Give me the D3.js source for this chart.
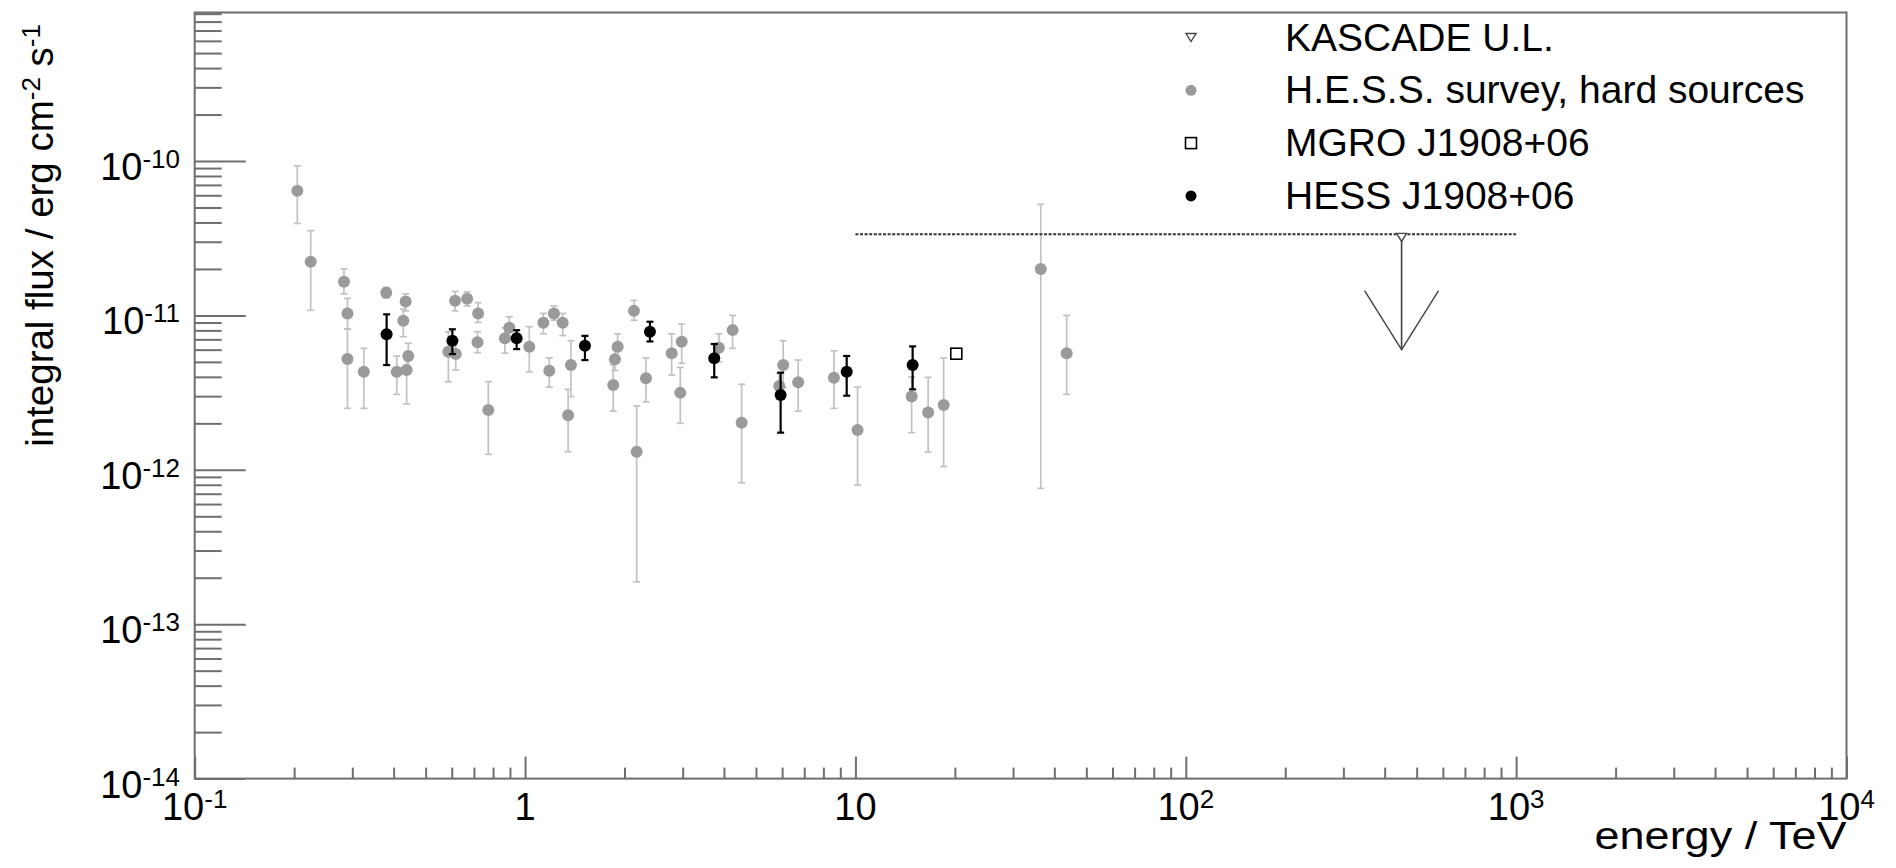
<!DOCTYPE html>
<html>
<head>
<meta charset="utf-8">
<script src="https://cdn.jsdelivr.net/npm/d3@7/dist/d3.min.js"></script>
<style>
  html, body { margin: 0; padding: 0; background: #fff; }
  svg { display: block; font-family: "Liberation Sans", Arial, Helvetica, sans-serif; }
</style>
</head>
<body>
<svg id="chart" width="1896" height="868"></svg>
<script>
// H.E.S.S. survey, hard sources (grey): energy / TeV, flux, upper and lower error ends
var surveyE  = [0.2045, 0.2244, 0.283, 0.290, 0.290, 0.325, 0.380, 0.435, 0.428, 0.443, 0.438, 0.409,
                0.586, 0.617, 0.614, 0.668, 0.721, 0.718, 0.774, 0.869, 0.896, 1.03, 1.136, 1.223,
                1.30, 1.184, 1.377, 1.35, 1.849, 1.871, 1.907, 2.177, 2.136, 2.323, 2.778, 2.979,
                2.95, 3.86, 4.25, 4.524, 6.045, 5.88, 6.71, 8.61, 10.15, 14.8, 16.6, 18.5, 36.4, 43.6];
var surveyF  = [6.42e-11, 2.23e-11, 1.65e-11, 1.03e-11, 5.22e-12, 4.31e-12, 1.40e-11, 1.23e-11, 9.25e-12, 5.46e-12, 4.43e-12, 4.31e-12,
                5.82e-12, 5.62e-12, 1.245e-11, 1.28e-11, 1.03e-11, 6.7e-12, 2.44e-12, 7.11e-12, 8.31e-12, 6.27e-12, 8.97e-12, 1.03e-11,
                8.97e-12, 4.38e-12, 4.77e-12, 2.26e-12, 3.54e-12, 5.2e-12, 6.27e-12, 1.31e-12, 1.07e-11, 3.92e-12, 5.69e-12, 6.76e-12,
                3.15e-12, 6.18e-12, 8.03e-12, 2.02e-12, 4.77e-12, 3.49e-12, 3.69e-12, 3.95e-12, 1.81e-12, 2.98e-12, 2.35e-12, 2.63e-12, 2.0e-11, 5.69e-12];
var surveyUp = [9.3e-11, 3.54e-11, 2.0e-11, 1.29e-11, 8.2e-12, 6.12e-12, 1.52e-11, 1.38e-11, 1.1e-11, 6.6e-12, 5.5e-12, 5.46e-12,
                7.84e-12, 6.9e-12, 1.43e-11, 1.42e-11, 1.21e-11, 7.84e-12, 3.72e-12, 8.3e-12, 9.8e-12, 8.45e-12, 1.03e-11, 1.15e-11,
                1.03e-11, 5.3e-12, 6.86e-12, 3.32e-12, 4.8e-12, 6.0e-12, 7.6e-12, 2.59e-12, 1.25e-11, 5.3e-12, 7.6e-12, 8.79e-12,
                4.6e-12, 7.6e-12, 1.0e-11, 3.58e-12, 6.86e-12, 4.2e-12, 5.14e-12, 5.9e-12, 3.43e-12, 4.0e-12, 3.97e-12, 5.3e-12, 5.24e-11, 1.0e-11];
var surveyLo = [3.94e-11, 1.08e-11, 1.38e-11, 8.17e-12, 2.5e-12, 2.5e-12, 1.30e-11, 1.07e-11, 7.28e-12, 4.3e-12, 2.67e-12, 3.08e-12,
                3.72e-12, 4.43e-12, 1.07e-11, 1.15e-11, 9.0e-12, 5.74e-12, 1.26e-12, 5.69e-12, 7.11e-12, 4.31e-12, 7.6e-12, 9.3e-12,
                7.4e-12, 3.43e-12, 2.98e-12, 1.31e-12, 2.4e-12, 4.4e-12, 5.2e-12, 1.88e-13, 9.3e-12, 2.76e-12, 4.11e-12, 4.9e-12,
                2.0e-12, 5.0e-12, 6.12e-12, 8.24e-13, 3.43e-12, 2.9e-12, 2.4e-12, 2.5e-12, 7.98e-13, 1.74e-12, 1.30e-12, 1.05e-12, 7.58e-13, 3.08e-12];

// HESS J1908+06 (black)
var hessE  = [0.381, 0.6025, 0.943, 1.518, 2.388, 3.738, 5.937, 9.41, 14.9];
var hessF  = [7.55e-12, 6.86e-12, 7.11e-12, 6.37e-12, 7.84e-12, 5.27e-12, 3.05e-12, 4.31e-12, 4.77e-12];
var hessUp = [1.016e-11, 8.13e-12, 8.02e-12, 7.37e-12, 9.1e-12, 6.53e-12, 4.26e-12, 5.46e-12, 6.3e-12];
var hessLo = [4.77e-12, 5.62e-12, 6.05e-12, 5.14e-12, 6.78e-12, 3.97e-12, 1.74e-12, 3.02e-12, 3.32e-12];

// MGRO J1908+06 (open square)
var mgroE = [20.2];
var mgroF = [5.65e-12];

// KASCADE upper limit
var kascadeE = [450];
var kascadeF = [3.35e-11];
var kascadeElo = [10];
var kascadeEhi = [1000];
var kascadeArrowTo = [6e-12];

// axis ticks and labels
var xMajor = [0.1, 1, 10, 100, 1000, 10000];
var xLabels = [["10", "-1"], ["1", ""], ["10", ""], ["10", "2"], ["10", "3"], ["10", "4"]];
var yMajor = [1e-14, 1e-13, 1e-12, 1e-11, 1e-10];
var yLabels = [["10", "-14"], ["10", "-13"], ["10", "-12"], ["10", "-11"], ["10", "-10"]];

var legendLabels = ["KASCADE U.L.", "H.E.S.S. survey, hard sources", "MGRO J1908+06", "HESS J1908+06"];

var L = 194.7, R = 1846.5, T = 12.5, B = 778.6;
var axisColor = '#6e6e6e';
var greyMarker = '#9a9a9a', greyBar = '#c2c2c2';

var svg = d3.select('#chart');

var x = d3.scaleLog().domain([0.1, 1e4]).range([L, R]);
var y = d3.scaleLog().domain([1e-14, 9.16e-10]).range([B, T]);

function minorsOf(majors, top) {
    var out = [];
    majors.forEach(function(m) {
        for (var k = 2; k <= 9; k++) {
            var v = m * k;
            if (v < top) out.push(v);
        }
    });
    return out;
}
var xMinor = minorsOf(xMajor, 1e4 * 0.999);
var yMinor = minorsOf(yMajor, 9.16e-10);

// frame
svg.append('rect')
    .attr('x', L).attr('y', T)
    .attr('width', R - L).attr('height', B - T)
    .attr('fill', 'none')
    .attr('stroke', axisColor)
    .attr('stroke-width', 2);

function styleAxis(g) {
    g.select('.domain').remove();
    g.selectAll('.tick line').attr('stroke', axisColor).attr('stroke-width', 2);
    g.selectAll('.tick text').remove();
}

// x ticks (inside the frame)
svg.append('g').attr('transform', 'translate(0,' + B + ')')
    .call(d3.axisBottom(x).tickValues(xMinor).tickSize(-11).tickFormat(''))
    .call(styleAxis);
svg.append('g').attr('transform', 'translate(0,' + B + ')')
    .call(d3.axisBottom(x).tickValues(xMajor).tickSize(-22).tickFormat(''))
    .call(styleAxis);

// y ticks
svg.append('g').attr('transform', 'translate(' + L + ',0)')
    .call(d3.axisLeft(y).tickValues(yMinor).tickSize(-27).tickFormat(''))
    .call(styleAxis);
svg.append('g').attr('transform', 'translate(' + L + ',0)')
    .call(d3.axisLeft(y).tickValues(yMajor).tickSize(-51).tickFormat(''))
    .call(styleAxis);

// tick labels with superscripts
function powerLabel(sel, parts, baseSize, supSize, supRaise) {
    sel.append('tspan').attr('font-size', baseSize).text(parts[0]);
    if (parts[1]) {
        sel.append('tspan').attr('font-size', supSize).attr('dy', -supRaise).text(parts[1]);
    }
}

xMajor.forEach(function(v, i) {
    var t = svg.append('text')
        .attr('x', x(v))
        .attr('y', B + 41)
        .attr('text-anchor', 'middle')
        .attr('fill', '#000');
    powerLabel(t, xLabels[i], 38, 26, 12);
});

yMajor.forEach(function(v, i) {
    var t = svg.append('text')
        .attr('x', 180)
        .attr('y', y(v) + 19)
        .attr('text-anchor', 'end')
        .attr('fill', '#000');
    powerLabel(t, yLabels[i], 38, 26, 12);
});

// axis titles
svg.append('text')
    .attr('x', R)
    .attr('y', 849)
    .attr('text-anchor', 'end')
    .attr('font-size', 39)
    .attr('textLength', 252)
    .attr('lengthAdjust', 'spacingAndGlyphs')
    .attr('fill', '#000')
    .text('energy / TeV');

var yt = svg.append('text')
    .attr('transform', 'translate(53,24) rotate(-90)')
    .attr('text-anchor', 'end')
    .attr('font-size', 38.5)
    .attr('fill', '#000');
yt.append('tspan').text('integral flux / erg cm');
yt.append('tspan').attr('font-size', 26).attr('dy', -13).text('-2');
yt.append('tspan').attr('dy', 13).text(' s');
yt.append('tspan').attr('font-size', 26).attr('dy', -13).text('-1');

// error bar helper
function errorBars(E, lo, up, color, width, cap) {
    var g = svg.append('g');
    g.selectAll('line.bar').data(E).enter().append('line')
        .attr('x1', function(d) { return x(d); })
        .attr('x2', function(d) { return x(d); })
        .attr('y1', function(d, i) { return y(up[i]); })
        .attr('y2', function(d, i) { return y(lo[i]); })
        .attr('stroke', color).attr('stroke-width', width);
    [up, lo].forEach(function(arr) {
        g.selectAll(null).data(E).enter().append('line')
            .attr('x1', function(d) { return x(d) - cap / 2; })
            .attr('x2', function(d) { return x(d) + cap / 2; })
            .attr('y1', function(d, i) { return y(arr[i]); })
            .attr('y2', function(d, i) { return y(arr[i]); })
            .attr('stroke', color).attr('stroke-width', width);
    });
}

// survey points
errorBars(surveyE, surveyLo, surveyUp, greyBar, 1.7, 7);
svg.append('g').selectAll('circle').data(surveyE).enter().append('circle')
    .attr('cx', function(d) { return x(d); })
    .attr('cy', function(d, i) { return y(surveyF[i]); })
    .attr('r', 6)
    .attr('fill', greyMarker);

// KASCADE upper limit: dotted energy range, marker and arrow
svg.append('line')
    .attr('x1', x(kascadeElo[0])).attr('x2', x(kascadeEhi[0]))
    .attr('y1', y(kascadeF[0])).attr('y2', y(kascadeF[0]))
    .attr('stroke', '#333')
    .attr('stroke-width', 2)
    .attr('stroke-dasharray', '3,1.6');

var kx = x(kascadeE[0]), ky = y(kascadeF[0]), ky2 = y(kascadeArrowTo[0]);
svg.append('line')
    .attr('x1', kx).attr('x2', kx).attr('y1', ky).attr('y2', ky2)
    .attr('stroke', '#444').attr('stroke-width', 1.6);
svg.append('path')
    .attr('d', 'M' + (kx - 37) + ',' + (ky2 - 59) + 'L' + kx + ',' + ky2 + 'L' + (kx + 37) + ',' + (ky2 - 59))
    .attr('fill', 'none').attr('stroke', '#444').attr('stroke-width', 1.4);

function triDown(cx, cy, s) {
    var h = s * 0.8;
    return 'M' + (cx - s / 2) + ',' + (cy - h / 2) + 'L' + (cx + s / 2) + ',' + (cy - h / 2) + 'L' + cx + ',' + (cy + h / 2) + 'Z';
}
svg.append('path')
    .attr('d', triDown(kx, ky + 3, 10))
    .attr('fill', '#fff').attr('stroke', '#444').attr('stroke-width', 1.4);

// HESS J1908+06
errorBars(hessE, hessLo, hessUp, '#000', 2.2, 7);
svg.append('g').selectAll('circle').data(hessE).enter().append('circle')
    .attr('cx', function(d) { return x(d); })
    .attr('cy', function(d, i) { return y(hessF[i]); })
    .attr('r', 6)
    .attr('fill', '#000');

// MGRO J1908+06
svg.append('g').selectAll('rect').data(mgroE).enter().append('rect')
    .attr('x', function(d) { return x(d) - 5.5; })
    .attr('y', function(d, i) { return y(mgroF[i]) - 5.5; })
    .attr('width', 11).attr('height', 11)
    .attr('fill', '#fff').attr('stroke', '#000').attr('stroke-width', 1.6);

// legend
var legX = 1191, legTextX = 1285, legY0 = 37.5, legDy = 52.8;
var leg = svg.append('g');
legendLabels.forEach(function(lab, i) {
    var cy = legY0 + i * legDy;
    if (i === 0) {
        leg.append('path').attr('d', triDown(legX, cy, 10))
            .attr('fill', '#fff').attr('stroke', '#444').attr('stroke-width', 1.4);
    } else if (i === 1) {
        leg.append('circle').attr('cx', legX).attr('cy', cy).attr('r', 5.5).attr('fill', greyMarker);
    } else if (i === 2) {
        leg.append('rect').attr('x', legX - 5.5).attr('y', cy - 5.5).attr('width', 11).attr('height', 11)
            .attr('fill', '#fff').attr('stroke', '#000').attr('stroke-width', 1.6);
    } else {
        leg.append('circle').attr('cx', legX).attr('cy', cy).attr('r', 5.5).attr('fill', '#000');
    }
    leg.append('text')
        .attr('x', legTextX)
        .attr('y', cy + 13)
        .attr('font-size', 39)
        .attr('fill', '#000')
        .text(lab);
});
</script>
</body>
</html>
